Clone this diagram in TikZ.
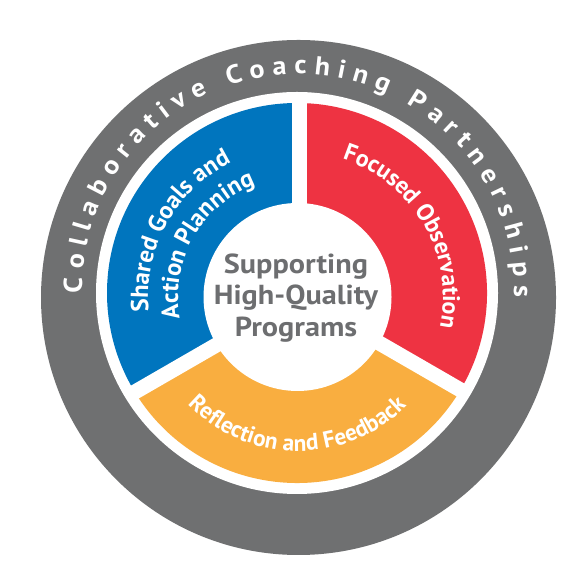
\documentclass[tikz,border=0pt]{standalone}
\usepackage{fontspec}
\setmainfont{PT Sans}
\newfontfamily\dinfont[FakeStretch=1.1]{PT Sans}
\newfontfamily\dinwide[FakeStretch=1.08]{PT Sans}
\usetikzlibrary{decorations.text}
\definecolor{ringgray}{HTML}{6F7071}
\definecolor{textgray}{HTML}{6D6E70}
\definecolor{cblue}{HTML}{0075BE}
\definecolor{cred}{HTML}{EE3342}
\definecolor{corange}{HTML}{F9AE40}
\newcommand{\ringfont}{\dinwide\fontsize{26}{30}\selectfont\bfseries}
\newcommand{\bluefont}{\fontsize{24.5}{28}\selectfont\bfseries}
\newcommand{\redfont}{\fontsize{24}{28}\selectfont\bfseries}
\newcommand{\orangefont}{\fontsize{23.3}{28}\selectfont\bfseries}
\tikzset{
  sepline/.style={white,line width=15pt},
  centertext/.style={text=textgray,font=\dinfont\fontsize{27.5}{32}\selectfont\bfseries,anchor=base,inner sep=0pt},
  ringtext/.style={decorate,decoration={text along path,text align={fit to path},text color=white,text={|\ringfont|#1}}},
  bluetext/.style={decorate,decoration={text along path,text align=center,text color=white,text={|\bluefont|#1}}},
  redtext/.style={decorate,decoration={text along path,text align=center,text color=white,text={|\redfont|#1}}},
  orangetext/.style={decorate,decoration={text along path,text align=center,text color=white,text={|\orangefont|#1}}}
}
\begin{document}
\begin{tikzpicture}[x=1pt,y=1pt]
\useasboundingbox (0,0) rectangle (583,585);
\fill[white] (0,0) rectangle (583,585);
% outer ring
\fill[ringgray] (298.5,287.5) circle[radius=257.5];
\fill[white] (297,292) circle[radius=201];
% sectors
\fill[cblue] (297,292) -- ++(90:190) arc[start angle=90,end angle=210,radius=190] -- cycle;
\fill[cred] (297,292) -- ++(-30:190) arc[start angle=-30,end angle=90,radius=190] -- cycle;
\fill[corange] (297,292) -- ++(210:190) arc[start angle=210,end angle=330,radius=190] -- cycle;
% separators
\coordinate (hub) at (299.5,288);
\draw[sepline] (hub) -- ++(90:195);
\draw[sepline] (hub) -- ++(210:195);
\draw[sepline] (hub) -- ++(330:195);
% centre disc
\fill[white] (297.5,288) circle[radius=94];
\node[centertext] (t1) at (296,311.7) {Supporting};
\node[centertext] (t2) at (296,280) {High-Quality};
\node[centertext] (t3) at (296,248.3) {Programs};
% ring text
\path[ringtext={Collaborative Coaching Partnerships}] (298,295) ++(180.8:216) arc[start angle=180.8,end angle=-1.9,radius=216];
% sector texts
\path[bluetext={Shared Goals and}] (298,288) ++(221:150) arc[start angle=221,end angle=81,radius=150];
\path[bluetext={Action Planning}] (298,288) ++(220.5:120) arc[start angle=220.5,end angle=80.5,radius=120];
\path[redtext={Focused Observation}] (298,288) ++(100:145) arc[start angle=100,end angle=-40,radius=145];
\path[orangetext={Reflection and Feedback}] (298,288) ++(199.5:154) arc[start angle=199.5,end angle=339.5,radius=154];
\end{tikzpicture}
\end{document}
